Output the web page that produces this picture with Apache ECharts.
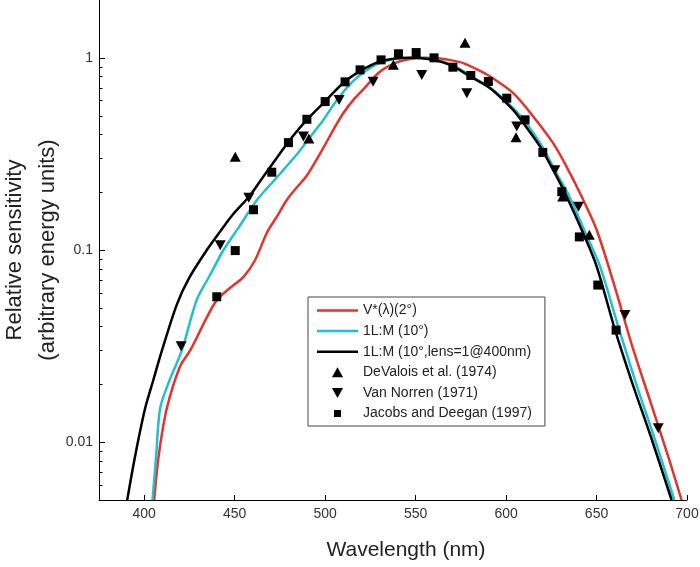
<!DOCTYPE html>
<html>
<head>
<meta charset="utf-8">
<title>Relative sensitivity</title>
<script src="https://cdn.jsdelivr.net/npm/echarts@6/dist/echarts.min.js"></script>
<style>
  html, body { margin: 0; padding: 0; background: #fff; }
  #chart { width: 700px; height: 567px; }
</style>
</head>
<body>
<div id="chart"></div>
<script>
// curves: wavelength (nm) and relative sensitivity
const redWl = [405.5, 408, 412.5, 419.9, 425.4, 434.6, 440.2, 447, 454.9, 461.3, 467.8, 473.3, 478.8, 484, 490, 499, 505, 510, 515.6, 522, 530.4, 540, 548, 555, 562, 570, 576.4, 584, 591.2, 604, 615, 626, 633.5, 642.7, 650.1, 659.3, 670, 680, 690, 697]
const redVal = [0.005, 0.0085, 0.015, 0.0249, 0.030, 0.0446, 0.055, 0.063, 0.0725, 0.0887, 0.123, 0.149, 0.182, 0.21, 0.245, 0.34, 0.43, 0.515, 0.604, 0.70, 0.849, 0.95, 0.99, 1.0, 0.995, 0.97, 0.938, 0.87, 0.80, 0.655, 0.495, 0.36, 0.271, 0.182, 0.127, 0.068, 0.031, 0.016, 0.0082, 0.005]

const cyanWl = [404.6, 406.6, 408.8, 414, 420.8, 429, 436, 443.8, 452, 462.3, 473, 485, 492, 499, 506.5, 515, 522, 530, 540, 550, 558, 566, 574, 582, 592, 605, 611, 620, 629, 635, 644, 652, 662, 672, 682, 693]
const cyanVal = [0.005, 0.0085, 0.015, 0.021, 0.030, 0.055, 0.073, 0.100, 0.130, 0.182, 0.237, 0.32, 0.39, 0.475, 0.604, 0.75, 0.85, 0.94, 0.99, 1.0, 0.985, 0.95, 0.88, 0.79, 0.69, 0.535, 0.46, 0.345, 0.24, 0.19, 0.122, 0.082, 0.04, 0.02, 0.0105, 0.005]

const blackWl = [390.6, 395, 400.5, 405, 409.8, 418, 425, 434.6, 442, 449, 458, 465, 475.1, 482, 489.9, 499, 510, 520, 530, 540, 548, 556, 563, 570, 580.1, 591.2, 603.9, 609.4, 618.8, 628, 633.5, 642.5, 650.1, 660, 670, 680, 691.5]
const blackVal = [0.005, 0.0085, 0.015, 0.021, 0.030, 0.052, 0.072, 0.100, 0.125, 0.153, 0.19, 0.235, 0.319, 0.39, 0.475, 0.581, 0.74, 0.86, 0.955, 0.995, 1.0, 0.99, 0.96, 0.91, 0.80, 0.695, 0.536, 0.459, 0.345, 0.241, 0.19, 0.123, 0.082, 0.039, 0.020, 0.0107, 0.005]

// measured points
const devaloisWl = [450.3, 491, 537.7, 577.3, 605.5, 631.3, 646]
const devaloisVal = [0.306, 0.38, 0.92, 1.20, 0.386, 0.19, 0.12]

const vanNorrenWl = [420.4, 442, 457.8, 488, 507.7, 526.5, 553.4, 578.3, 605.9, 627, 640, 665.7, 684.1]
const vanNorrenVal = [0.0316, 0.106, 0.187, 0.39, 0.604, 0.75, 0.815, 0.655, 0.439, 0.26, 0.168, 0.0459, 0.0118]

const jacobsWl = [440.1, 450.3, 460.4, 470.5, 479.7, 489.9, 500, 511, 519.3, 530.9, 540.5, 550.3, 560.2, 570.6, 580.5, 590.2, 600.4, 610.5, 620.3, 630.8, 640.5, 650.7, 660.8]
const jacobsVal = [0.0571, 0.0993, 0.162, 0.254, 0.362, 0.479, 0.592, 0.75, 0.866, 0.976, 1.05, 1.065, 1.0, 0.894, 0.81, 0.753, 0.617, 0.476, 0.322, 0.201, 0.117, 0.0657, 0.0383]

const xTicks = [400, 450, 500, 550, 600, 650, 700]
const yMinorTicks = [0.006, 0.007, 0.008, 0.009, 0.02, 0.03, 0.04, 0.05, 0.06, 0.07, 0.08, 0.09, 0.2, 0.3, 0.4, 0.5, 0.6, 0.7, 0.8, 0.9]

const names = ['V*(λ)(2°)', '1L:M (10°)', '1L:M (10°,lens=1@400nm)', 'DeValois et al. (1974)', 'Van Norren (1971)', 'Jacobs and Deegan (1997)']

const pairs = (xs, ys) => xs.map((x, i) => [x, ys[i]])
const font = '"Liberation Sans", Arial, Helvetica, sans-serif'
const upTriangle = 'path://M5,0 L10,9 L0,9 Z'
const downTriangle = 'path://M0,0 L10,0 L5,9 Z'
const lineIcon = 'path://M0,0 L41,0 L41,2.5 L0,2.5 Z'
const squareIcon = 'path://M0,0 L7,0 L7,7 L0,7 Z M-1.5,-1.5 M8.5,8.5'

const chart = echarts.init(document.getElementById('chart'))

function lineSeries(name, color, data) {
  return {
    name: name,
    type: 'line',
    data: data,
    symbol: 'none',
    showSymbol: false,
    smooth: 0.3,
    lineStyle: { color: color, width: 2.5 },
    itemStyle: { color: color }
  }
}

function pointSeries(name, symbol, size, data) {
  return {
    name: name,
    type: 'scatter',
    data: data,
    symbol: symbol,
    symbolSize: size,
    itemStyle: { color: '#000', opacity: 1 },
    z: 5
  }
}

chart.setOption({
  animation: false,
  backgroundColor: '#fff',
  textStyle: { fontFamily: font },
  grid: { left: 99, right: 13, top: 0, bottom: 67, outerBoundsMode: 'none', containLabel: false },
  legend: {
    orient: 'vertical',
    left: 308,
    top: 297,
    padding: [6, 13, 5, 9],
    itemWidth: 41,
    itemHeight: 10,
    itemGap: 5.6,
    symbolKeepAspect: true,
    borderColor: '#444',
    borderWidth: 1,
    textStyle: { fontFamily: font, fontSize: 14, color: '#222', lineHeight: 15 },
    data: [
      { name: names[0], icon: lineIcon },
      { name: names[1], icon: lineIcon },
      { name: names[2], icon: lineIcon },
      { name: names[3], icon: upTriangle },
      { name: names[4], icon: downTriangle },
      { name: names[5], icon: squareIcon }
    ]
  },
  xAxis: {
    type: 'value',
    min: 375,
    max: 700,
    name: 'Wavelength (nm)',
    nameLocation: 'middle',
    nameGap: 40,
    nameMoveOverlap: false,
    nameTextStyle: { fontFamily: font, fontSize: 21, color: '#222', padding: [0, 0, 0, 26] },
    axisLine: { lineStyle: { color: '#000', width: 1 } },
    axisTick: { inside: true, length: 5, customValues: xTicks, lineStyle: { color: '#000' } },
    axisLabel: { customValues: xTicks, fontSize: 14, color: '#333', margin: 7 },
    splitLine: { show: false }
  },
  yAxis: {
    type: 'log',
    logBase: 10,
    min: 0.005,
    max: 2,
    name: 'Relative sensitivity\n(arbitrary energy units)',
    nameLocation: 'middle',
    nameRotate: 90,
    nameGap: 35,
    nameMoveOverlap: false,
    nameTextStyle: { fontFamily: font, fontSize: 22, color: '#222', lineHeight: 33 },
    axisLine: { show: true, lineStyle: { color: '#000', width: 1 } },
    axisTick: { inside: true, length: 6, lineStyle: { color: '#000' } },
    axisLabel: {
      showMinLabel: false,
      showMaxLabel: false,
      fontSize: 14,
      color: '#333',
      margin: 6,
      formatter: v => String(+v.toPrecision(3))
    },
    splitLine: { show: false }
  },
  series: [
    lineSeries(names[0], '#e5322b', pairs(redWl, redVal)),
    lineSeries(names[1], '#22c0cf', pairs(cyanWl, cyanVal)),
    lineSeries(names[2], '#000', pairs(blackWl, blackVal)),
    pointSeries(names[3], upTriangle, [11, 10], pairs(devaloisWl, devaloisVal)),
    pointSeries(names[4], downTriangle, [11, 10], pairs(vanNorrenWl, vanNorrenVal)),
    pointSeries(names[5], 'rect', 9, pairs(jacobsWl, jacobsVal))
  ]
})

// minor log ticks on the y axis, placed through the axis scale
function drawMinorTicks() {
  const x0 = chart.convertToPixel({ xAxisIndex: 0 }, 375)
  const ticks = yMinorTicks.map(v => {
    const y = Math.round(chart.convertToPixel({ yAxisIndex: 0 }, v)) + 0.5
    return {
      type: 'line',
      silent: true,
      shape: { x1: x0, y1: y, x2: x0 + 3.5, y2: y },
      style: { stroke: '#000', lineWidth: 1 }
    }
  })
  chart.setOption({ graphic: ticks })
}
drawMinorTicks()
</script>
</body>
</html>
